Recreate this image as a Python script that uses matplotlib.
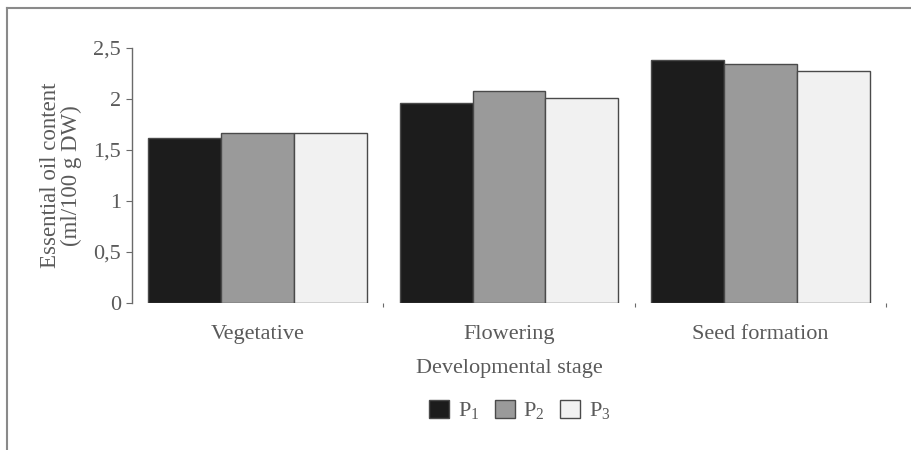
import matplotlib
matplotlib.use('Agg')
import matplotlib.pyplot as plt
from matplotlib.lines import Line2D
from matplotlib.ticker import FixedLocator, FuncFormatter
import numpy as np

plt.rcParams['font.family'] = 'serif'
plt.rcParams['font.serif'] = ['Liberation Serif', 'DejaVu Serif']
plt.rcParams['mathtext.fontset'] = 'custom'
plt.rcParams['mathtext.rm'] = 'Liberation Serif'

# data
stages = ['Vegetative', 'Flowering', 'Seed formation']
series = ['P$_1$', 'P$_2$', 'P$_3$']
p1 = [1.62, 1.96, 2.38]
p2 = [1.67, 2.08, 2.34]
p3 = [1.67, 2.01, 2.27]
y_ticks = [0, 0.5, 1, 1.5, 2, 2.5]

TXT = '#5a5a5a'
EDGE = '#4a4a4a'
fills = ['#1c1c1c', '#9a9a9a', '#f1f1f1']
FS = 16

fig = plt.figure(figsize=(9.12, 4.5), dpi=100, facecolor='white')
ax = fig.add_axes([132 / 912, 1 - 303 / 450, 754 / 912, 255 / 450])

x = np.arange(len(stages))
w = 0.29
for i, (vals, lab) in enumerate(zip([p1, p2, p3], series)):
    ax.bar(x + (i - 1) * w, vals, width=w, color=fills[i], edgecolor=EDGE,
           linewidth=1.0, label=lab)

ax.set_xlim(-0.5, 2.5)
ax.set_ylim(0, 2.5)

for s in ['top', 'right', 'bottom']:
    ax.spines[s].set_visible(False)
ax.spines['left'].set_color('#6a6a6a')
ax.spines['left'].set_linewidth(1.0)

ax.yaxis.set_major_locator(FixedLocator(y_ticks))
ax.yaxis.set_major_formatter(FuncFormatter(lambda v, p: ('%g' % v).replace('.', ',')))
ax.tick_params(axis='y', length=4, width=0.8, color='#6a6a6a', labelsize=FS,
               labelcolor=TXT, pad=4)

ax.set_xticks(x)
ax.set_xticklabels(stages)
ax.tick_params(axis='x', length=0, labelsize=FS, labelcolor=TXT, pad=16)
ax.xaxis.set_minor_locator(FixedLocator([0.5, 1.5, 2.5]))
ax.tick_params(axis='x', which='minor', length=3, width=0.8, color='#6a6a6a')

ax.set_ylabel('Essential oil content\n(ml/100 g DW)', fontsize=FS + 0.5, color=TXT,
              labelpad=8, linespacing=1.0)
ax.set_xlabel('Developmental stage', fontsize=FS, color=TXT, labelpad=11)

leg = fig.legend(loc='center', bbox_to_anchor=(0.570, 1 - 411 / 450), ncol=3,
                 frameon=False, fontsize=FS, handlelength=0.9, handleheight=0.9,
                 handletextpad=0.4, columnspacing=0.7, labelcolor=TXT)

# frame lines around the figure
fig.add_artist(Line2D([7 / 912, 1], [1 - 8 / 450, 1 - 8 / 450],
                      transform=fig.transFigure, color='#8a8a8a', linewidth=1.5))
fig.add_artist(Line2D([7 / 912, 7 / 912], [0, 1 - 8 / 450],
                      transform=fig.transFigure, color='#8a8a8a', linewidth=1.5))

fig.savefig('out.png', dpi=100, facecolor='white')
